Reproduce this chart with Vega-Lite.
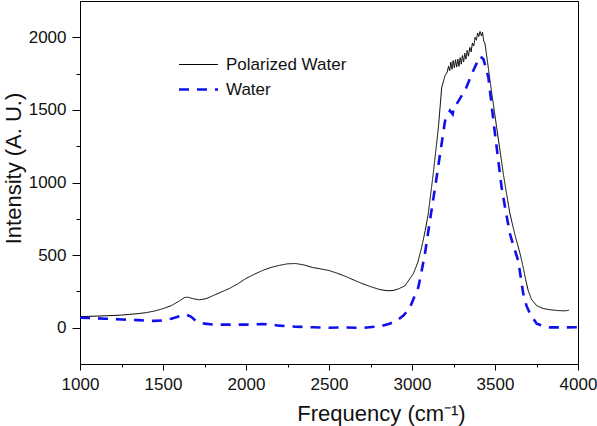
{
  "$schema": "https://vega.github.io/schema/vega-lite/v6.json",
  "width": 498,
  "height": 363,
  "autosize": {"type": "none"},
  "padding": {"left": 80, "top": 1, "right": 19, "bottom": 62},
  "background": "white",
  "config": {
    "view": {"stroke": "#000000", "strokeWidth": 1},
    "axis": {
      "domainColor": "#000000",
      "tickColor": "#000000",
      "labelColor": "#111111",
      "titleColor": "#111111",
      "labelFont": "Liberation Sans",
      "titleFont": "Liberation Sans",
      "labelFontSize": 17,
      "titleFontSize": 22,
      "titleFontWeight": "normal",
      "grid": false
    },
    "legend": {
      "labelFont": "Liberation Sans",
      "labelFontSize": 17,
      "labelColor": "#111111"
    }
  },
  "data": {
    "values": [
      {"f": 1000, "v": 76, "s": "Polarized Water"},
      {"f": 1050, "v": 78, "s": "Polarized Water"},
      {"f": 1100, "v": 80, "s": "Polarized Water"},
      {"f": 1150, "v": 82, "s": "Polarized Water"},
      {"f": 1200, "v": 84, "s": "Polarized Water"},
      {"f": 1250, "v": 87, "s": "Polarized Water"},
      {"f": 1300, "v": 92, "s": "Polarized Water"},
      {"f": 1350, "v": 97, "s": "Polarized Water"},
      {"f": 1400, "v": 104, "s": "Polarized Water"},
      {"f": 1450, "v": 115, "s": "Polarized Water"},
      {"f": 1500, "v": 131, "s": "Polarized Water"},
      {"f": 1550, "v": 152, "s": "Polarized Water"},
      {"f": 1600, "v": 185, "s": "Polarized Water"},
      {"f": 1630, "v": 208, "s": "Polarized Water"},
      {"f": 1650, "v": 210, "s": "Polarized Water"},
      {"f": 1680, "v": 200, "s": "Polarized Water"},
      {"f": 1720, "v": 192, "s": "Polarized Water"},
      {"f": 1760, "v": 200, "s": "Polarized Water"},
      {"f": 1800, "v": 220, "s": "Polarized Water"},
      {"f": 1850, "v": 245, "s": "Polarized Water"},
      {"f": 1900, "v": 270, "s": "Polarized Water"},
      {"f": 1950, "v": 302, "s": "Polarized Water"},
      {"f": 2000, "v": 339, "s": "Polarized Water"},
      {"f": 2050, "v": 368, "s": "Polarized Water"},
      {"f": 2100, "v": 394, "s": "Polarized Water"},
      {"f": 2150, "v": 415, "s": "Polarized Water"},
      {"f": 2200, "v": 429, "s": "Polarized Water"},
      {"f": 2250, "v": 440, "s": "Polarized Water"},
      {"f": 2300, "v": 442, "s": "Polarized Water"},
      {"f": 2350, "v": 432, "s": "Polarized Water"},
      {"f": 2400, "v": 415, "s": "Polarized Water"},
      {"f": 2450, "v": 405, "s": "Polarized Water"},
      {"f": 2500, "v": 394, "s": "Polarized Water"},
      {"f": 2550, "v": 375, "s": "Polarized Water"},
      {"f": 2600, "v": 353, "s": "Polarized Water"},
      {"f": 2650, "v": 328, "s": "Polarized Water"},
      {"f": 2700, "v": 304, "s": "Polarized Water"},
      {"f": 2750, "v": 283, "s": "Polarized Water"},
      {"f": 2807, "v": 262, "s": "Polarized Water"},
      {"f": 2850, "v": 255, "s": "Polarized Water"},
      {"f": 2887, "v": 256, "s": "Polarized Water"},
      {"f": 2920, "v": 268, "s": "Polarized Water"},
      {"f": 2958, "v": 289, "s": "Polarized Water"},
      {"f": 3008, "v": 372, "s": "Polarized Water"},
      {"f": 3035, "v": 450, "s": "Polarized Water"},
      {"f": 3058, "v": 553, "s": "Polarized Water"},
      {"f": 3080, "v": 670, "s": "Polarized Water"},
      {"f": 3098, "v": 785, "s": "Polarized Water"},
      {"f": 3128, "v": 1061, "s": "Polarized Water"},
      {"f": 3159, "v": 1379, "s": "Polarized Water"},
      {"f": 3179, "v": 1655, "s": "Polarized Water"},
      {"f": 3199, "v": 1735, "s": "Polarized Water"},
      {"f": 3212, "v": 1760, "s": "Polarized Water"},
      {"f": 3220, "v": 1800, "s": "Polarized Water"},
      {"f": 3227, "v": 1770, "s": "Polarized Water"},
      {"f": 3234, "v": 1830, "s": "Polarized Water"},
      {"f": 3241, "v": 1780, "s": "Polarized Water"},
      {"f": 3248, "v": 1840, "s": "Polarized Water"},
      {"f": 3255, "v": 1790, "s": "Polarized Water"},
      {"f": 3262, "v": 1845, "s": "Polarized Water"},
      {"f": 3269, "v": 1795, "s": "Polarized Water"},
      {"f": 3276, "v": 1850, "s": "Polarized Water"},
      {"f": 3283, "v": 1800, "s": "Polarized Water"},
      {"f": 3290, "v": 1860, "s": "Polarized Water"},
      {"f": 3297, "v": 1815, "s": "Polarized Water"},
      {"f": 3304, "v": 1875, "s": "Polarized Water"},
      {"f": 3311, "v": 1830, "s": "Polarized Water"},
      {"f": 3318, "v": 1890, "s": "Polarized Water"},
      {"f": 3325, "v": 1850, "s": "Polarized Water"},
      {"f": 3332, "v": 1910, "s": "Polarized Water"},
      {"f": 3340, "v": 1870, "s": "Polarized Water"},
      {"f": 3348, "v": 1930, "s": "Polarized Water"},
      {"f": 3356, "v": 1900, "s": "Polarized Water"},
      {"f": 3364, "v": 1960, "s": "Polarized Water"},
      {"f": 3372, "v": 1940, "s": "Polarized Water"},
      {"f": 3380, "v": 2000, "s": "Polarized Water"},
      {"f": 3388, "v": 1980, "s": "Polarized Water"},
      {"f": 3395, "v": 2030, "s": "Polarized Water"},
      {"f": 3402, "v": 2005, "s": "Polarized Water"},
      {"f": 3410, "v": 2040, "s": "Polarized Water"},
      {"f": 3418, "v": 2010, "s": "Polarized Water"},
      {"f": 3425, "v": 2035, "s": "Polarized Water"},
      {"f": 3432, "v": 1975, "s": "Polarized Water"},
      {"f": 3440, "v": 1955, "s": "Polarized Water"},
      {"f": 3455, "v": 1830, "s": "Polarized Water"},
      {"f": 3470, "v": 1701, "s": "Polarized Water"},
      {"f": 3490, "v": 1540, "s": "Polarized Water"},
      {"f": 3510, "v": 1379, "s": "Polarized Water"},
      {"f": 3530, "v": 1220, "s": "Polarized Water"},
      {"f": 3550, "v": 1061, "s": "Polarized Water"},
      {"f": 3570, "v": 920, "s": "Polarized Water"},
      {"f": 3590, "v": 785, "s": "Polarized Water"},
      {"f": 3620, "v": 640, "s": "Polarized Water"},
      {"f": 3651, "v": 510, "s": "Polarized Water"},
      {"f": 3670, "v": 415, "s": "Polarized Water"},
      {"f": 3685, "v": 330, "s": "Polarized Water"},
      {"f": 3700, "v": 256, "s": "Polarized Water"},
      {"f": 3720, "v": 195, "s": "Polarized Water"},
      {"f": 3751, "v": 152, "s": "Polarized Water"},
      {"f": 3790, "v": 132, "s": "Polarized Water"},
      {"f": 3831, "v": 124, "s": "Polarized Water"},
      {"f": 3880, "v": 118, "s": "Polarized Water"},
      {"f": 3920, "v": 116, "s": "Polarized Water"},
      {"f": 3945, "v": 120, "s": "Polarized Water"},
      {"f": 1000, "v": 69, "s": "Water"},
      {"f": 1050, "v": 67, "s": "Water"},
      {"f": 1100, "v": 65, "s": "Water"},
      {"f": 1150, "v": 62, "s": "Water"},
      {"f": 1200, "v": 60, "s": "Water"},
      {"f": 1250, "v": 57, "s": "Water"},
      {"f": 1300, "v": 55, "s": "Water"},
      {"f": 1350, "v": 52, "s": "Water"},
      {"f": 1400, "v": 48, "s": "Water"},
      {"f": 1450, "v": 47, "s": "Water"},
      {"f": 1500, "v": 50, "s": "Water"},
      {"f": 1550, "v": 62, "s": "Water"},
      {"f": 1600, "v": 80, "s": "Water"},
      {"f": 1640, "v": 90, "s": "Water"},
      {"f": 1670, "v": 75, "s": "Water"},
      {"f": 1700, "v": 45, "s": "Water"},
      {"f": 1750, "v": 28, "s": "Water"},
      {"f": 1800, "v": 22, "s": "Water"},
      {"f": 1850, "v": 21, "s": "Water"},
      {"f": 1900, "v": 21, "s": "Water"},
      {"f": 2000, "v": 21, "s": "Water"},
      {"f": 2100, "v": 25, "s": "Water"},
      {"f": 2150, "v": 22, "s": "Water"},
      {"f": 2200, "v": 14, "s": "Water"},
      {"f": 2250, "v": 10, "s": "Water"},
      {"f": 2300, "v": 7, "s": "Water"},
      {"f": 2400, "v": 3, "s": "Water"},
      {"f": 2500, "v": 0, "s": "Water"},
      {"f": 2600, "v": 2, "s": "Water"},
      {"f": 2700, "v": -2, "s": "Water"},
      {"f": 2807, "v": 10, "s": "Water"},
      {"f": 2860, "v": 25, "s": "Water"},
      {"f": 2908, "v": 48, "s": "Water"},
      {"f": 2950, "v": 85, "s": "Water"},
      {"f": 2988, "v": 140, "s": "Water"},
      {"f": 3015, "v": 215, "s": "Water"},
      {"f": 3038, "v": 278, "s": "Water"},
      {"f": 3058, "v": 390, "s": "Water"},
      {"f": 3078, "v": 510, "s": "Water"},
      {"f": 3108, "v": 737, "s": "Water"},
      {"f": 3139, "v": 965, "s": "Water"},
      {"f": 3169, "v": 1195, "s": "Water"},
      {"f": 3199, "v": 1425, "s": "Water"},
      {"f": 3229, "v": 1494, "s": "Water"},
      {"f": 3245, "v": 1470, "s": "Water"},
      {"f": 3255, "v": 1530, "s": "Water"},
      {"f": 3269, "v": 1540, "s": "Water"},
      {"f": 3295, "v": 1590, "s": "Water"},
      {"f": 3319, "v": 1632, "s": "Water"},
      {"f": 3340, "v": 1690, "s": "Water"},
      {"f": 3360, "v": 1747, "s": "Water"},
      {"f": 3385, "v": 1810, "s": "Water"},
      {"f": 3410, "v": 1870, "s": "Water"},
      {"f": 3430, "v": 1850, "s": "Water"},
      {"f": 3445, "v": 1790, "s": "Water"},
      {"f": 3460, "v": 1724, "s": "Water"},
      {"f": 3480, "v": 1530, "s": "Water"},
      {"f": 3500, "v": 1334, "s": "Water"},
      {"f": 3520, "v": 1150, "s": "Water"},
      {"f": 3540, "v": 965, "s": "Water"},
      {"f": 3565, "v": 800, "s": "Water"},
      {"f": 3590, "v": 647, "s": "Water"},
      {"f": 3615, "v": 550, "s": "Water"},
      {"f": 3640, "v": 461, "s": "Water"},
      {"f": 3670, "v": 235, "s": "Water"},
      {"f": 3690, "v": 150, "s": "Water"},
      {"f": 3711, "v": 97, "s": "Water"},
      {"f": 3751, "v": 28, "s": "Water"},
      {"f": 3800, "v": 8, "s": "Water"},
      {"f": 3831, "v": 2, "s": "Water"},
      {"f": 3900, "v": 2, "s": "Water"},
      {"f": 4000, "v": 3, "s": "Water"}
    ]
  },
  "mark": {"type": "line", "interpolate": "linear", "clip": true},
  "encoding": {
    "x": {
      "field": "f",
      "type": "quantitative",
      "scale": {"domain": [1000, 4000], "nice": false, "zero": false},
      "axis": {
        "values": [1000, 1250, 1500, 1750, 2000, 2250, 2500, 2750, 3000, 3250, 3500, 3750, 4000],
        "format": "d",
        "labelExpr": "datum.value % 500 === 0 ? datum.label : ''",
        "labelFlush": false,
        "labelOverlap": false,
        "tickSize": {"condition": {"test": "datum.value % 500 !== 0", "value": 3}, "value": 6},
        "labelPadding": 6,
        "title": "Frequency (cm⁻¹)",
        "titleX": 301,
        "titleY": 56,
        "titleAlign": "center",
        "titleBaseline": "alphabetic"
      }
    },
    "y": {
      "field": "v",
      "type": "quantitative",
      "scale": {"domain": [-250, 2250], "nice": false, "zero": false},
      "axis": {
        "values": [0, 250, 500, 750, 1000, 1250, 1500, 1750, 2000],
        "format": "d",
        "labelExpr": "datum.value % 500 === 0 ? datum.label : ''",
        "labelOverlap": false,
        "tickSize": {"condition": {"test": "datum.value % 500 !== 0", "value": 4}, "value": 8},
        "labelPadding": 6,
        "title": "Intensity (A. U.)",
        "titleX": -60,
        "titleY": 167,
        "titleAngle": -90,
        "titleAlign": "center",
        "titleBaseline": "alphabetic"
      }
    },
    "color": {
      "field": "s",
      "type": "nominal",
      "title": null,
      "scale": {"domain": ["Polarized Water", "Water"], "range": ["#000000", "#1010ee"]},
      "legend": {
        "orient": "none",
        "legendX": 107,
        "legendY": 53,
        "symbolType": "M-2,0H2",
        "symbolSize": 380,
        "labelOffset": 16,
        "rowPadding": 5
      }
    },
    "strokeDash": {
      "field": "s",
      "type": "nominal",
      "title": null,
      "scale": {"domain": ["Polarized Water", "Water"], "range": [[1, 0], [10, 8]]}
    },
    "strokeWidth": {
      "field": "s",
      "type": "nominal",
      "title": null,
      "scale": {"domain": ["Polarized Water", "Water"], "range": [1, 2.6]}
    }
  }
}
